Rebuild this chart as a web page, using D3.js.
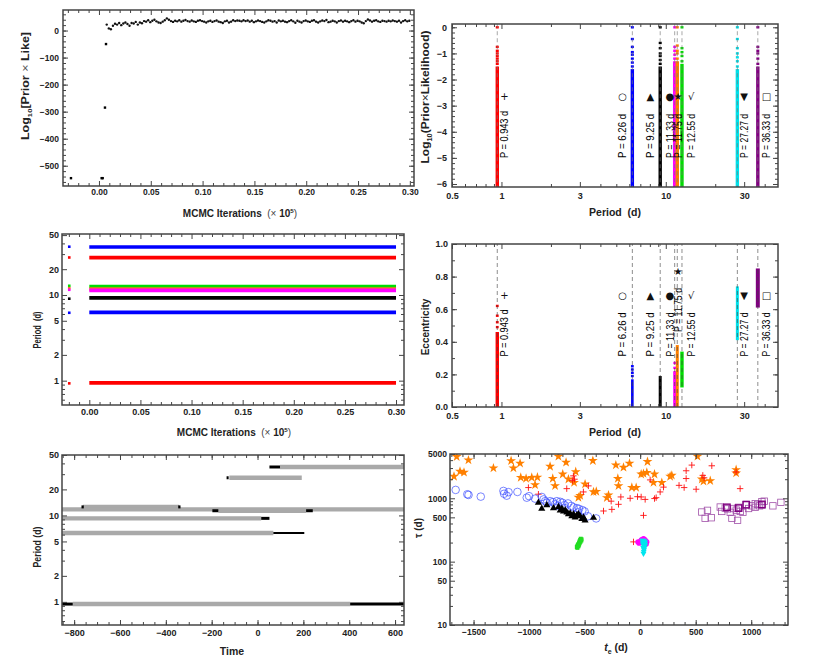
<!DOCTYPE html>
<html><head><meta charset="utf-8">
<script src="https://cdn.jsdelivr.net/npm/d3@7"></script>
<style>body{margin:0;background:#fff}svg{display:block}</style>
</head><body><svg id="c" width="817" height="657"></svg>
<script>
// ---------------- DATA ----------------
// Panel 1: MCMC trace of log10(prior x likelihood)
const traceEarlyIter = [-0.027, 0.0026, 0.0036, 0.0058, 0.0068];
const traceEarlyVal  = [-546, -546, -546, -285, -50];
const traceStartIter = 0.0075, traceStepIter = 0.002;
const traceVal = [
 22,8,5,18,25,22,28,20,26,30,24,18,28,26,32,22,30,27,35,33,
 38,31,36,40,34,30,28,33,38,45,40,35,32,36,34,38,33,36,39,35,
 33,37,34,32,36,38,35,33,30,34,36,32,35,37,33,31,28,34,36,30,
 33,38,35,37,36,34,38,35,37,33,36,31,34,37,35,32,30,34,38,36,
 33,35,30,37,34,36,33,31,35,38,34,29,36,33,30,35,37,34,32,36,
 38,33,30,34,37,35,39,31,33,36,34,30,35,37,33,36,34,31,35,38,
 33,36,34,30,27,35,41,37,33,36,38,34,32,36,35,33,36,34,37,35,
 33,36,30,35,38,34,36];

// Planets (panels 2 & 4)
const periods = [0.943, 6.26, 9.25, 11.33, 11.75, 12.55, 27.27, 36.33];
const periodLabels = ["P = 0.943 d","P = 6.26 d","P = 9.25 d","P = 11.33 d","P = 11.75 d","P = 12.55 d","P = 27.27 d","P = 36.33 d"];
const planetSymbols = ["+","○","▲","●","★","√","▼","□"];
const planetColors = ["#ff0000","#0000ff","#000000","#ff00ff","#ff8000","#00dd00","#00e0ea","#800080"];
const likeDenseTop = [-1.5,-1.6,-1.5,-1.3,-1.3,-1.4,-1.6,-1.5];
const likeSparse = [
 [-1.4,-1.3,-1.2,-1.1,-1.0,-0.9,-0.75,0],
 [-1.5,-1.35,-1.2,-1.05,-0.95,-0.75,-0.45,0],
 [-1.4,-1.25,-1.1,-1.0,-0.8,-0.6,0],
 [-1.2,-1.05,-0.9,-0.75,0],
 [-1.2,-1.0,-0.9,-0.7,0],
 [-1.3,-1.1,-0.95,-0.8,0],
 [-1.5,-1.3,-1.15,-1.0,-0.8,-0.45,0],
 [-1.4,-1.2,-1.0,-0.9,-0.75,0]];
const eccLow  = [0, 0, 0, 0, 0, 0.12, 0.41, 0.61];
const eccHigh = [0.46, 0.17, 0.19, 0.22, 0.38, 0.34, 0.74, 0.85];
const eccSparse = [[0.49,0.52,0.56,0.62],[0.19,0.21,0.23,0.25],[],[0.24,0.27],[],[],[],[]];
const likeLabelAt = -5;
const eccLabelAt = [0.31,0.31,0.31,0.31,0.46,0.31,0.31,0.31];

// Panel 3: period traces
const p3Periods = [36.33, 27.27, 12.55, 11.75, 11.33, 9.25, 6.26, 0.943];
const p3Init    = [36.6, 27.4, 12.8, 12.0, 11.5, 9.05, 6.2, 0.93];
const p3Colors  = ["#0000ff","#ff0000","#00dd00","#ff7020","#ff00ff","#000000","#0000ff","#ff0000"];
const p3IterStart = 0.0, p3IterEnd = 0.30, p3InitIter = -0.0196;

// Panel 5: time coverage segments
const tlPeriod = [36.33,36.33,27.27,27.27,12.55,12.55,12.55,11.75,11.33,11.33,11.33,9.25,9.25,6.26,6.26,0.943,0.943,0.943];
const tlStart  = [52,98,-135,-123,-762,-768,-346,-853,-197,-171,212,-853,16,-853,69,-853,-806,404];
const tlEnd    = [98,639,-126,193,-342,-758,-336,639,-171,212,241,16,52,69,204,-806,404,639];
const tlKind   = ["k","g","k","g","g","k","k","g","k","g","k","g","k","g","k2","k","g","k"];

// Panel 6: t_e vs tau scatter
const starPts = [[-1652,4530],[-1546,4010],[-1676,2210],[-1622,2650],[-1586,2560],
 [-1321,2990],[-1162,3910],[-1141,2990],[-1081,3560],[-1075,2130],[-1027,2050],[-976,2130],[-925,2150],[-946,1625],
 [-811,3180],[-787,2050],[-736,4580],[-697,2400],[-766,1570],[-667,3680],[-646,2000],[-595,1770],[-580,2620],
 [-556,1030],[-540,1100],[-496,1670],[-426,3920],[-420,1260],[-395,1280],[-300,1020],[-285,1120],
 [-219,3340],[-201,2050],[-150,3070],[-96,3550],[-195,1570],[-75,1480],[-36,1476],[9,2400],[30,2450],
 [66,3780],[60,2550],[129,2400],[120,1770],[195,1770],[270,2210],[285,2300],[516,4580],[555,2000],
 [570,1850],[631,1890],[864,2820],[864,2500]];
const plusPts = [[-1006,1476],[-916,1160],[-661,1420],[-601,2260],[-591,2000],[-511,1260],[-466,1570],[-330,630],
 [-255,668],[-195,803],[-174,1050],[-261,900],[-90,1000],[-24,1060],[9,1050],[30,537],[45,960],[90,1950],
 [144,1023],[129,990],[180,1260],[414,2720],[414,2050],[465,3340],[564,2300],[576,2100],[645,3260],[396,1476],
 [504,1390],[900,1420],[-610,1900],[-60,205],[864,2600],[210,1500],[350,1600]];
const circlePts = [[-1661,1356],[-1556,1156],[-1545,1130],[-1435,1062],[-1231,1306],[-1225,1180],[-1201,1100],
 [-1185,1250],[-1105,1260],[-1021,1023],[-1000,1080],[-946,988],[-886,1050],[-870,960],[-855,900],[-840,850],
 [-810,900],[-786,870],[-766,803],[-750,900],[-720,880],[-700,850],[-680,780],[-650,830],[-620,760],[-600,720],
 [-570,700],[-550,680],[-520,650],[-500,620],[-396,481],[-680,700],[-740,760],[-560,600],[-470,520]];
const trianglePts = [[-916,853],[-886,686],[-840,780],[-780,700],[-735,730],[-720,640],[-690,620],[-660,600],
 [-630,580],[-600,560],[-570,540],[-540,520],[-510,500],[-496,448],[-420,493],[-555,560],[-585,500],[-525,470],
 [-615,520],[-645,560],[-675,650],[-705,690]];
const squarePts = [[555,607],[585,482],[606,645],[640,493],[721,728],[735,620],[766,700],[787,680],[811,600],
 [826,482],[841,690],[865,650],[877,448],[886,720],[901,620],[925,600],[955,803],[976,690],[1006,760],
 [1036,720],[1057,800],[1075,760],[1096,886],[1117,900],[1195,760],[1267,862],[1096,780],[1036,820]];
const squareDarkPts = [[781,720],[886,700],[955,790],[1096,800]];
const greenPts = [[-570,170],[-565,178],[-560,185],[-555,190],[-550,200],[-545,210],[-540,220],[-535,230],
 [-560,175],[-550,185],[-545,195],[-538,205],[-530,215],[-528,225],[-565,165],[-555,175]];
const magentaPts = [[-20,205],[0,210],[10,220],[20,225],[30,230],[40,225],[50,215],[60,205],[55,190],[-10,195],
 [5,200],[45,200],[25,215]];
const cyanPts = [[20,215],[30,215],[40,210],[45,200],[25,200],[35,195],[30,180],[40,175],[28,165],[35,155],
 [32,145],[30,135],[25,190],[45,185],[38,165]];

// ---------------- DRAWING ----------------
const FONT = '"Liberation Sans", Arial, Helvetica, sans-serif';
const svg = d3.select("#c");
let clipN = 0;

function addAxis(parent, gen, tr, vals, size, fmt, pad, fs) {
  gen.tickValues(vals).tickSizeInner(-size).tickSizeOuter(0).tickPadding(pad)
     .tickFormat(fmt ? fmt : () => "");
  const s = parent.append("g").attr("transform", tr).call(gen);
  s.select(".domain").remove();
  s.selectAll(".tick line").attr("stroke", "#444").attr("stroke-width", 1);
  s.selectAll(".tick text").attr("font-family", FONT).attr("font-size", fs)
    .attr("font-weight", "bold").attr("fill", "#222");
}

function panel(o) {
  const {L, R, T, B, x, y} = o;
  const id = "clip" + (clipN++);
  svg.append("clipPath").attr("id", id).append("rect")
    .attr("x", L).attr("y", T).attr("width", R - L).attr("height", B - T);
  const plot = svg.append("g").attr("clip-path", `url(#${id})`);
  const axes = svg.append("g");
  const fs = o.fs || 9;
  addAxis(axes, d3.axisBottom(x), `translate(0,${B})`, o.xMajor, 5, o.xFmt, o.xPad, fs);
  addAxis(axes, d3.axisBottom(x), `translate(0,${B})`, o.xMinor, 3, null, 0, fs);
  addAxis(axes, d3.axisTop(x), `translate(0,${T})`, o.xMajor, 5, null, 0, fs);
  addAxis(axes, d3.axisTop(x), `translate(0,${T})`, o.xMinor, 3, null, 0, fs);
  addAxis(axes, d3.axisLeft(y), `translate(${L},0)`, o.yMajor, 5, o.yFmt, o.yPad, fs);
  addAxis(axes, d3.axisLeft(y), `translate(${L},0)`, o.yMinor, 3, null, 0, fs);
  addAxis(axes, d3.axisRight(y), `translate(${R},0)`, o.yMajor, 5, null, 0, fs);
  addAxis(axes, d3.axisRight(y), `translate(${R},0)`, o.yMinor, 3, null, 0, fs);
  axes.append("rect").attr("x", L).attr("y", T).attr("width", R - L).attr("height", B - T)
    .attr("fill", "none").attr("stroke", "#444").attr("stroke-width", 1.5);
  return plot;
}

function addParts(t, parts) {
  let shift = 0;
  parts.forEach(p => {
    const s = t.append("tspan").text(p.t);
    let want = p.sub ? 3 : (p.sup ? -4 : 0);
    if (want !== shift) { s.attr("dy", want - shift); shift = want; }
    if (p.sub || p.sup) s.attr("font-size", "0.62em");
    if (p.w) s.attr("font-weight", p.w);
    if (p.c) s.attr("fill", p.c);
  });
}
function label(cx, cy, parts, size, rot, len) {
  const t = svg.append("text")
    .attr("transform", `translate(${cx},${cy})` + (rot ? " rotate(-90)" : ""))
    .attr("text-anchor", "middle").attr("font-family", FONT).attr("font-size", size)
    .attr("font-weight", "bold").attr("fill", "#222").attr("xml:space", "preserve");
  addParts(t, parts);
  if (len) t.attr("textLength", len).attr("lengthAdjust", "spacingAndGlyphs");
  return t;
}
const range = (a, b, s) => d3.range(a, b + s / 2, s).map(v => +v.toFixed(6));

// ----- Panel 1 -----
{
  const x = d3.scaleLinear().domain([-0.0347, 0.304]).range([63, 414]);
  const y = d3.scaleLinear().domain([-575, 76]).range([186, 10]);
  const p = panel({L:63,R:414,T:10,B:186,x,y,
    xMajor: range(0, 0.30, 0.05), xMinor: range(-0.03, 0.30, 0.01).filter(v => Math.abs((v*100)%5) > 1e-6),
    yMajor: range(-500, 0, 100), yMinor: range(-560, 60, 20),
    xFmt: d3.format(".2f"), yFmt: d3.format("d"), xPad: 3, yPad: 4, fs: 8.5});
  p.selectAll("circle.e").data(traceEarlyIter).join("rect")
    .attr("x", (d) => x(d) - 1.2).attr("y", (d, i) => y(traceEarlyVal[i]) - 1.2)
    .attr("width", 2.4).attr("height", 2.4).attr("fill", "#000");
  p.selectAll("circle.t").data(traceVal).join("circle")
    .attr("cx", (d, i) => x(traceStartIter + i * traceStepIter)).attr("cy", d => y(d))
    .attr("r", 1.2).attr("fill", "#111");
  label(240, 217, [{t:"MCMC Iterations  "},{t:"(× ", w:"normal", c:"#444"},{t:"10"},{t:"5", sup:true},{t:")", w:"normal", c:"#444"}], 10, false);
  label(29, 86, [{t:"Log"},{t:"10", sub:true},{t:"[Prior "},{t:"×", w:"normal", c:"#555"},{t:" Like]"}], 10, true, 108);
}

// ----- helpers for period panels -----
const pMajor = [0.5, 1, 3, 10, 30];
const pMinor = [0.6,0.7,0.8,0.9,2,4,5,6,7,8,9,20,40];
const pFmt = d => String(d);
function planetLabels(g, x, y, yAt) {
  const labelDx = [11, -6, -6, -1, 4.5, 13, 10.5, 12.5];
  periods.forEach((P, i) => {
    const bx = x(P) + labelDx[i];
    const by = y(Array.isArray(yAt) ? yAt[i] : yAt);
    g.append("text").attr("transform", `translate(${bx},${by}) rotate(-90)`)
      .attr("font-family", FONT).attr("font-size", 10).attr("fill", "#000")
      .attr("xml:space", "preserve").attr("textLength", i === 0 ? 47 : 44).attr("lengthAdjust", "spacingAndGlyphs")
      .text(periodLabels[i]);
    g.append("text").attr("x", bx - 3.8).attr("y", by - 61)
      .attr("text-anchor", "middle").attr("dominant-baseline", "central")
      .attr("font-family", "DejaVu Sans, sans-serif").attr("font-size", 10).attr("fill", "#111")
      .text(planetSymbols[i]);
  });
}

// ----- Panel 2 -----
{
  const x = d3.scaleLog().domain([0.5, 48.2]).range([452, 778]);
  const y = d3.scaleLinear().domain([-6.115, 0.126]).range([187, 24]);
  const p = panel({L:452,R:778,T:24,B:187,x,y,
    xMajor: pMajor, xMinor: pMinor, yMajor: range(-6, 0, 1), yMinor: range(-6, 0, 0.2),
    xFmt: pFmt, yFmt: d3.format("d"), xPad: 6, yPad: 5, fs: 9});
  periods.forEach((P, i) => {
    p.append("line").attr("x1", x(P)).attr("x2", x(P)).attr("y1", y(-6.2)).attr("y2", y(likeDenseTop[i]))
      .attr("stroke", planetColors[i]).attr("stroke-width", 3.4);
    p.selectAll(null).data(likeSparse[i]).join("rect")
      .attr("x", x(P) - 1.5).attr("y", d => y(d) - 1.2).attr("width", 3).attr("height", 2.4)
      .attr("fill", planetColors[i]);
    p.append("line").attr("x1", x(P)).attr("x2", x(P)).attr("y1", y(-6.2)).attr("y2", y(0.2))
      .attr("stroke", "#777").attr("stroke-width", 0.8).attr("stroke-dasharray", "4,3").attr("opacity", 0.8);
  });
  planetLabels(svg.append("g"), x, y, likeLabelAt);
  label(615, 216, [{t:"Period  (d)"}], 10.5, false);
  label(429, 97, [{t:"Log"},{t:"10", sub:true},{t:"(Prior"},{t:"×", w:"normal"},{t:"Likelihood)"}], 11, true, 133);
}

// ----- Panel 3 -----
{
  const x = d3.scaleLinear().domain([-0.0267, 0.3078]).range([62, 404]);
  const y = d3.scaleLog().domain([0.52, 51.5]).range([405, 234]);
  const p = panel({L:62,R:404,T:234,B:405,x,y,
    xMajor: range(0, 0.30, 0.05), xMinor: range(-0.02, 0.30, 0.01).filter(v => Math.abs((v*100)%5) > 1e-6),
    yMajor: [1,2,5,10,20,50], yMinor: [0.6,0.7,0.8,0.9,3,4,6,7,8,9,30,40],
    xFmt: d3.format(".2f"), yFmt: d => String(d), xPad: 4, yPad: 3, fs: 9});
  const line = d3.line().x(d => x(d[0])).y(d => y(d[1]));
  p3Periods.forEach((P, i) => {
    p.append("path").attr("d", line([[p3IterStart, P], [p3IterEnd, P]]))
      .attr("stroke", p3Colors[i]).attr("stroke-width", 3.6).attr("fill", "none");
    p.append("rect").attr("x", x(p3InitIter) - 1.3).attr("y", y(p3Init[i]) - 1.3)
      .attr("width", 2.6).attr("height", 2.6).attr("fill", p3Colors[i]);
  });
  label(234, 436, [{t:"MCMC Iterations  "},{t:"(× ", w:"normal", c:"#444"},{t:"10"},{t:"5", sup:true},{t:")", w:"normal", c:"#444"}], 10, false);
  label(41, 330, [{t:"Period  (d)"}], 10.5, true, 37);
}

// ----- Panel 4 -----
{
  const x = d3.scaleLog().domain([0.5, 48.2]).range([452, 778]);
  const y = d3.scaleLinear().domain([0, 1]).range([407, 244]);
  const p = panel({L:452,R:778,T:244,B:407,x,y,
    xMajor: pMajor, xMinor: pMinor, yMajor: range(0, 1, 0.2), yMinor: range(0, 1, 0.1),
    xFmt: pFmt, yFmt: d3.format(".1f"), xPad: 6, yPad: 4, fs: 9});
  const stripW = [3.4, 2.6, 3, 3, 3, 3.4, 3, 4];
  periods.forEach((P, i) => {
    p.append("line").attr("x1", x(P)).attr("x2", x(P)).attr("y1", y(eccLow[i])).attr("y2", y(eccHigh[i]))
      .attr("stroke", planetColors[i]).attr("stroke-width", stripW[i]);
    p.selectAll(null).data(eccSparse[i]).join("rect")
      .attr("x", x(P) - 1.4).attr("y", d => y(d) - 1.2).attr("width", 2.8).attr("height", 2.4)
      .attr("fill", planetColors[i]);
  });
  periods.forEach(P => {
    p.append("line").attr("x1", x(P)).attr("x2", x(P)).attr("y1", y(0)).attr("y2", y(1))
      .attr("stroke", "#444").attr("stroke-width", 0.8).attr("stroke-dasharray", "4,3").attr("opacity", 0.75);
  });
  planetLabels(svg.append("g"), x, y, eccLabelAt);
  label(615, 436, [{t:"Period  (d)"}], 10.5, false);
  label(429, 327, [{t:"Eccentricity"}], 10, true);
}

// ----- Panel 5 -----
{
  const x = d3.scaleLinear().domain([-853, 639]).range([62, 404]);
  const y = d3.scaleLog().domain([0.54, 50]).range([625, 455]);
  const p = panel({L:62,R:404,T:455,B:625,x,y,
    xMajor: range(-800, 600, 200), xMinor: range(-850, 600, 50),
    yMajor: [1,2,5,10,20,50], yMinor: [0.6,0.7,0.8,0.9,3,4,6,7,8,9,30,40],
    xFmt: d3.format("d"), yFmt: d => String(d), xPad: 5, yPad: 3, fs: 9});
  const kindColor = {g:"#a9a9a9", k:"#000", k2:"#000"};
  const kindW = {g:4.4, k:3, k2:2};
  const order = d3.range(tlPeriod.length).sort((a, b) => (tlKind[a] === "g" ? 0 : 1) - (tlKind[b] === "g" ? 0 : 1));
  p.selectAll("line.s").data(order).join("line")
    .attr("x1", i => x(tlStart[i])).attr("x2", i => x(tlEnd[i]))
    .attr("y1", i => y(tlPeriod[i])).attr("y2", i => y(tlPeriod[i]))
    .attr("stroke", i => kindColor[tlKind[i]]).attr("stroke-width", i => kindW[tlKind[i]]);
  label(232, 655, [{t:"Time"}], 10.5, false);
  label(41, 547, [{t:"Period (d)"}], 10.5, true, 41);
}

// ----- Panel 6 -----
{
  const x = d3.scaleLinear().domain([-1712, 1331]).range([450, 788]);
  const y = d3.scaleLog().domain([10, 5000]).range([625, 454]);
  const p = panel({L:450,R:788,T:454,B:625,x,y,
    xMajor: range(-1500, 1000, 500), xMinor: range(-1700, 1300, 100),
    yMajor: [10,50,100,500,1000,5000], yMinor: [20,30,40,60,70,80,90,200,300,400,600,700,800,900,2000,3000,4000],
    xFmt: d3.format("d"), yFmt: d => String(d), xPad: 4, yPad: 3, fs: 8.5});
  const star = d3.symbol().type(d3.symbolStar).size(30);
  const tri = d3.symbol().type(d3.symbolTriangle).size(22);
  const triS = d3.symbol().type(d3.symbolTriangle).size(16);
  p.selectAll("path.st").data(starPts).join("path").attr("d", star)
    .attr("transform", d => `translate(${x(d[0])},${y(d[1])})`).attr("fill", "#ff8000");
  p.selectAll("path.pl").data(plusPts).join("path").attr("d", "M-3.2,0H3.2M0,-3.2V3.2")
    .attr("transform", d => `translate(${x(d[0])},${y(d[1])})`).attr("stroke", "#ff1010").attr("stroke-width", 0.9);
  p.selectAll("circle.ci").data(circlePts).join("circle")
    .attr("cx", d => x(d[0])).attr("cy", d => y(d[1])).attr("r", 3.8)
    .attr("fill", "none").attr("stroke", "#3a4cff").attr("stroke-width", 0.8).attr("opacity", 0.85);
  p.selectAll("path.tr").data(trianglePts).join("path").attr("d", tri)
    .attr("transform", d => `translate(${x(d[0])},${y(d[1])})`).attr("fill", "#000");
  p.selectAll("rect.sq").data(squarePts).join("rect")
    .attr("x", d => x(d[0]) - 3.2).attr("y", d => y(d[1]) - 3.2).attr("width", 6.4).attr("height", 6.4)
    .attr("fill", "none").attr("stroke", "#a050a8").attr("stroke-width", 0.8);
  p.selectAll("rect.sqd").data(squareDarkPts).join("rect")
    .attr("x", d => x(d[0]) - 3.2).attr("y", d => y(d[1]) - 3.2).attr("width", 6.4).attr("height", 6.4)
    .attr("fill", "none").attr("stroke", "#800080").attr("stroke-width", 1.4);
  p.selectAll("rect.gr").data(greenPts).join("rect")
    .attr("x", d => x(d[0]) - 2).attr("y", d => y(d[1]) - 2).attr("width", 4).attr("height", 4)
    .attr("fill", "#22dd22");
  p.selectAll("circle.mg").data(magentaPts).join("circle")
    .attr("cx", d => x(d[0])).attr("cy", d => y(d[1])).attr("r", 2.6).attr("fill", "#ff00ff");
  p.selectAll("path.cy").data(cyanPts).join("path").attr("d", triS)
    .attr("transform", d => `translate(${x(d[0])},${y(d[1])}) rotate(180)`).attr("fill", "#00e5ee");
  const t = svg.append("text").attr("x", 616).attr("y", 651).attr("text-anchor", "middle")
    .attr("font-family", FONT).attr("font-size", 10.5).attr("font-weight", "bold").attr("fill", "#222");
  t.append("tspan").attr("font-style", "italic").text("t");
  t.append("tspan").attr("font-size", 7).attr("dy", 2.5).text("e");
  t.append("tspan").attr("dy", -2.5).text(" (d)");
  label(422, 528, [{t:"τ (d)"}], 10, true);
}
</script></body></html>
